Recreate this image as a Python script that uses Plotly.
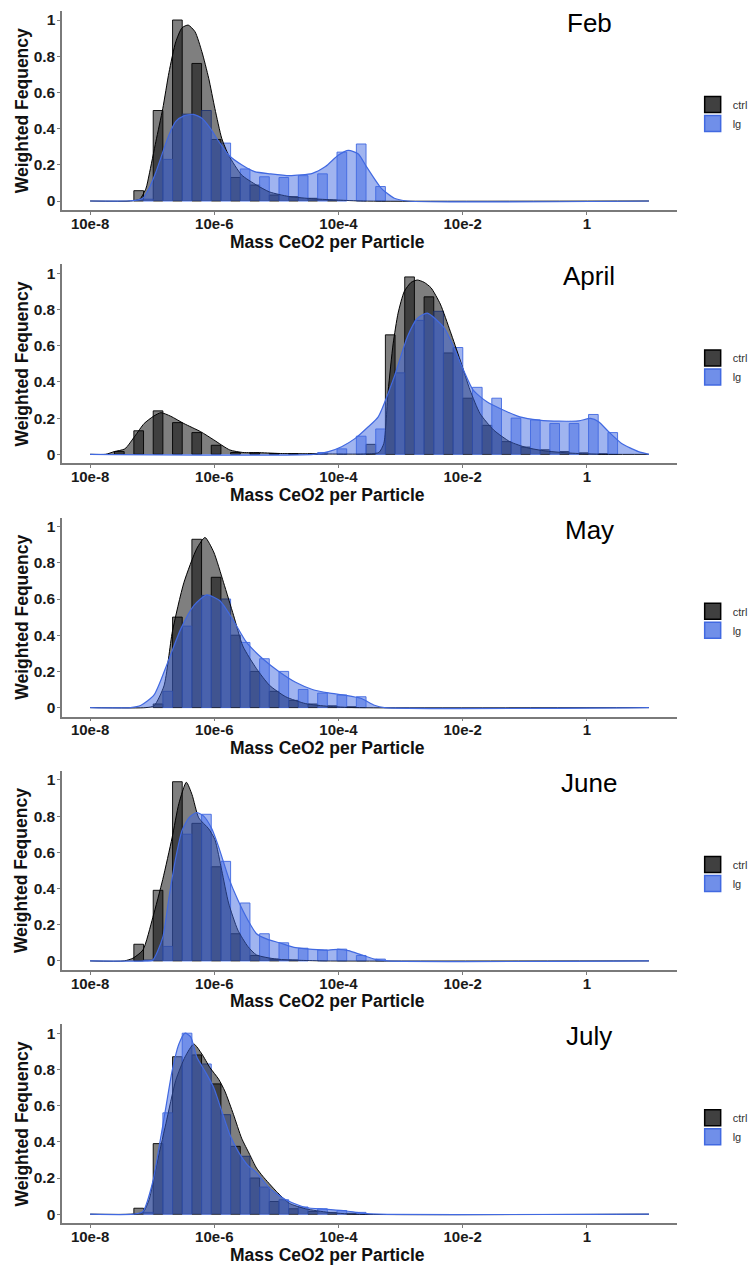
import plotly.graph_objects as go

# ---------------- data ----------------
months = ["Feb", "April", "May", "June", "July"]
group_names = ["ctrl", "lg"]

# histogram bins on log10(mass): 26 bins, each bin dodged ctrl | lg
bin_first_edge = -7.607
bin_width = 0.3116
n_bins = 26

feb_ctrl_hist = [0, 0.057, 0.5, 1.0, 0.76, 0.34, 0.13, 0.088, 0.033, 0.024, 0.015, 0.005,
                 0, 0, 0, 0, 0, 0, 0, 0, 0, 0, 0, 0, 0, 0]
feb_lg_hist = [0, 0.01, 0.23, 0.48, 0.5, 0.32, 0.177, 0.134, 0.13, 0.14, 0.15, 0.27, 0.315, 0.08,
               0, 0, 0, 0, 0, 0, 0, 0, 0, 0, 0, 0]
apr_ctrl_hist = [0.015, 0.13, 0.24, 0.175, 0.12, 0.05, 0.01, 0.008, 0.004, 0.003, 0.002, 0, 0,
                 0.055, 0.66, 0.98, 0.87, 0.56, 0.31, 0.16, 0.07, 0.04, 0.025, 0.015, 0.008, 0.003]
apr_lg_hist = [0, 0, 0, 0, 0, 0, 0, 0, 0, 0, 0.01, 0.03, 0.1, 0.14, 0.45, 0.74, 0.79, 0.59,
               0.37, 0.31, 0.2, 0.19, 0.17, 0.17, 0.22, 0.12]
may_ctrl_hist = [0, 0, 0.02, 0.5, 0.93, 0.72, 0.4, 0.2, 0.09, 0.04, 0.02, 0.01, 0.005,
                 0, 0, 0, 0, 0, 0, 0, 0, 0, 0, 0, 0, 0]
may_lg_hist = [0, 0, 0.09, 0.45, 0.62, 0.6, 0.36, 0.27, 0.2, 0.1, 0.08, 0.07, 0.06,
               0, 0, 0, 0, 0, 0, 0, 0, 0, 0, 0, 0, 0]
jun_ctrl_hist = [0, 0.092, 0.39, 0.99, 0.76, 0.52, 0.15, 0.03, 0.01, 0.005,
                 0, 0, 0, 0, 0, 0, 0, 0, 0, 0, 0, 0, 0, 0, 0, 0]
jun_lg_hist = [0, 0.005, 0.08, 0.7, 0.81, 0.55, 0.32, 0.15, 0.1, 0.07, 0.06, 0.065, 0.03, 0.01,
               0, 0, 0, 0, 0, 0, 0, 0, 0, 0, 0, 0]
jul_ctrl_hist = [0, 0.033, 0.39, 0.87, 0.88, 0.72, 0.375, 0.2, 0.07, 0.03, 0.015, 0.01, 0.005,
                 0, 0, 0, 0, 0, 0, 0, 0, 0, 0, 0, 0, 0]
jul_lg_hist = [0, 0.01, 0.56, 1.0, 0.83, 0.55, 0.32, 0.15, 0.08, 0.04, 0.03, 0.02, 0.01,
               0, 0, 0, 0, 0, 0, 0, 0, 0, 0, 0, 0, 0]

# scaled density curves, read at knots (x = log10 mass)
feb_ctrl_dens_x = [-8, -7.35, -7.2, -7.1, -7.05, -6.94, -6.83, -6.73, -6.62, -6.52, -6.42, -6.31,
                   -6.2, -6.09, -5.99, -5.88, -5.77, -5.56, -5.32, -5.11, -4.8, -4.4, -4.0, -3.6, 1]
feb_ctrl_dens_y = [0, 0, 0.01, 0.07, 0.144, 0.33, 0.51, 0.71, 0.88, 0.957, 0.972, 0.935,
                   0.825, 0.678, 0.51, 0.346, 0.254, 0.144, 0.088, 0.05, 0.025, 0.012, 0.005, 0, 0]
feb_lg_dens_x = [-8, -7.4, -7.25, -7.15, -7.05, -6.94, -6.83, -6.73, -6.62, -6.49, -6.34, -6.2,
                 -6.06, -5.93, -5.77, -5.56, -5.35, -5.1, -4.79, -4.42, -4.21, -4.0, -3.84,
                 -3.68, -3.55, -3.31, -3.1, -2.89, 1]
feb_lg_dens_y = [0, 0, 0.005, 0.015, 0.07, 0.16, 0.27, 0.365, 0.44, 0.47, 0.479, 0.457,
                 0.40, 0.33, 0.254, 0.2, 0.162, 0.15, 0.14, 0.153, 0.19, 0.254, 0.28,
                 0.26, 0.19, 0.07, 0.015, 0, 0]
apr_ctrl_dens_x = [-8, -7.75, -7.61, -7.44, -7.28, -7.13, -6.98, -6.86, -6.7, -6.49, -6.22,
                   -6.01, -5.75, -5.54, -5.27, -4.9, -4.5, -4.1, -3.6, -3.35, -3.27, -3.2,
                   -3.12, -3.04, -2.94, -2.83, -2.73, -2.62, -2.51, -2.36, -2.2, -2.04, -1.88,
                   -1.72, -1.5, -1.24, -0.97, -0.66, -0.18, 0.35, 1]
apr_ctrl_dens_y = [0, 0, 0.015, 0.03, 0.1, 0.17, 0.21, 0.23, 0.21, 0.17, 0.125,
                   0.08, 0.024, 0.01, 0.009, 0.004, 0.003, 0.002, 0.002, 0.01, 0.06, 0.35,
                   0.61, 0.78, 0.9, 0.95, 0.963, 0.95, 0.92, 0.83, 0.68, 0.52, 0.354,
                   0.225, 0.134, 0.07, 0.037, 0.018, 0.005, 0, 0]
apr_lg_dens_x = [-8, -4.4, -4.16, -3.95, -3.73, -3.52, -3.36, -3.1, -2.89, -2.73, -2.57, -2.3,
                 -2.14, -1.98, -1.83, -1.61, -1.4, -1.08, -0.77, -0.45, -0.13, 0.06, 0.19,
                 0.35, 0.56, 0.83, 1.0]
apr_lg_dens_y = [0, 0, 0.015, 0.042, 0.088, 0.152, 0.207, 0.43, 0.65, 0.75, 0.78, 0.70,
                 0.59, 0.46, 0.354, 0.29, 0.253, 0.207, 0.189, 0.183, 0.185, 0.198, 0.18,
                 0.125, 0.06, 0.015, 0]
may_ctrl_dens_x = [-8, -7.1, -6.97, -6.81, -6.675, -6.49, -6.28, -6.15, -6.01, -5.85, -5.69,
                   -5.54, -5.32, -5.11, -4.85, -4.53, -4.16, -3.73, 1]
may_ctrl_dens_y = [0, 0, 0.01, 0.12, 0.42, 0.69, 0.88, 0.94, 0.86, 0.69, 0.51,
                   0.34, 0.215, 0.123, 0.06, 0.022, 0.007, 0, 0]
may_lg_dens_x = [-8, -7.35, -7.18, -6.97, -6.75, -6.54, -6.33, -6.12, -5.91, -5.69, -5.48,
                 -5.22, -4.95, -4.69, -4.42, -4.16, -3.89, -3.63, -3.42, -3.26, 1]
may_lg_dens_y = [0, 0, 0.013, 0.07, 0.25, 0.435, 0.564, 0.623, 0.59, 0.48, 0.36,
                 0.27, 0.197, 0.14, 0.1, 0.081, 0.068, 0.05, 0.013, 0, 0]
jun_ctrl_dens_x = [-8, -7.45, -7.31, -7.15, -6.99, -6.83, -6.68, -6.57, -6.45, -6.36, -6.25,
                   -6.09, -5.99, -5.88, -5.77, -5.62, -5.46, -5.32, -5.0, -4.6, -4.2, 1]
jun_ctrl_dens_y = [0, 0, 0.015, 0.06, 0.24, 0.45, 0.68, 0.87, 0.987, 0.92, 0.79,
                   0.73, 0.67, 0.5, 0.32, 0.17, 0.08, 0.033, 0.01, 0.003, 0, 0]
jun_lg_dens_x = [-8, -7.1, -6.99, -6.83, -6.73, -6.62, -6.52, -6.41, -6.29, -6.17, -6.04,
                 -5.93, -5.77, -5.62, -5.46, -5.32, -5.15, -4.95, -4.69, -4.42, -4.16,
                 -4.0, -3.84, -3.63, -3.42, -3.2, 1]
jun_lg_dens_y = [0, 0, 0.005, 0.13, 0.35, 0.57, 0.72, 0.79, 0.82, 0.80, 0.73,
                 0.63, 0.46, 0.336, 0.226, 0.15, 0.12, 0.1, 0.073, 0.064, 0.06,
                 0.064, 0.057, 0.033, 0.01, 0, 0]
jul_ctrl_dens_x = [-8, -7.35, -7.15, -7.05, -6.94, -6.78, -6.62, -6.47, -6.33, -6.2, -6.07,
                   -5.93, -5.83, -5.69, -5.56, -5.43, -5.32, -5.22, -5.0, -4.79, -4.53,
                   -4.16, -3.73, 1]
jul_ctrl_dens_y = [0, 0, 0.01, 0.08, 0.255, 0.5, 0.74, 0.87, 0.94, 0.885, 0.81,
                   0.746, 0.68, 0.55, 0.42, 0.33, 0.255, 0.21, 0.126, 0.06, 0.03,
                   0.01, 0, 0]
jul_lg_dens_x = [-8, -7.3, -7.15, -6.99, -6.89, -6.78, -6.68, -6.57, -6.47, -6.38, -6.28,
                 -6.15, -6.01, -5.88, -5.75, -5.62, -5.46, -5.32, -5.11, -4.85, -4.53,
                 -4.21, -3.89, -3.63, -3.36, 1]
jul_lg_dens_y = [0, 0, 0.015, 0.18, 0.37, 0.59, 0.79, 0.94, 1.0, 0.98, 0.867,
                 0.79, 0.70, 0.57, 0.44, 0.35, 0.27, 0.23, 0.144, 0.08, 0.037,
                 0.028, 0.019, 0.006, 0, 0]

x_tick_vals = [-8, -6, -4, -2, 0]
x_tick_text = ["10e-8", "10e-6", "10e-4", "10e-2", "1"]
y_tick_vals = [0, 0.2, 0.4, 0.6, 0.8, 1]
y_tick_text = ["0", "0.2", "0.4", "0.6", "0.8", "1"]
x_title = "Mass CeO2 per Particle"
y_title = "Weighted Fequency"

hist_ctrl = [feb_ctrl_hist, apr_ctrl_hist, may_ctrl_hist, jun_ctrl_hist, jul_ctrl_hist]
hist_lg = [feb_lg_hist, apr_lg_hist, may_lg_hist, jun_lg_hist, jul_lg_hist]
dens_ctrl = [(feb_ctrl_dens_x, feb_ctrl_dens_y), (apr_ctrl_dens_x, apr_ctrl_dens_y),
             (may_ctrl_dens_x, may_ctrl_dens_y), (jun_ctrl_dens_x, jun_ctrl_dens_y),
             (jul_ctrl_dens_x, jul_ctrl_dens_y)]
dens_lg = [(feb_lg_dens_x, feb_lg_dens_y), (apr_lg_dens_x, apr_lg_dens_y),
           (may_lg_dens_x, may_lg_dens_y), (jun_lg_dens_x, jun_lg_dens_y),
           (jul_lg_dens_x, jul_lg_dens_y)]

# ---------------- styling / layout ----------------
W, H = 753, 1267
FONT = "Liberation Sans, Arial, Helvetica, sans-serif"
CTRL_FILL = "rgba(0,0,0,0.5)"
LG_FILL = "rgba(65,105,225,0.5)"
CTRL_LINE = "black"
LG_LINE = "rgb(65,105,225)"
AXIS_COL = "#7a7a7a"


def fx(p):
    return p / W


def fy(p):
    return 1 - p / H


bin_centers = [bin_first_edge + bin_width * (j + 0.5) for j in range(n_bins)]

fig = go.Figure()
layout = dict(
    width=W, height=H,
    margin=dict(l=0, r=0, t=0, b=0),
    paper_bgcolor="white", plot_bgcolor="white",
    barmode="overlay",
    showlegend=True,
    annotations=[],
)

panel_step = 253.3
unit = 181.0
for i, month in enumerate(months):
    sfx = "" if i == 0 else str(i + 1)
    xa, ya = "x" + sfx, "y" + sfx
    leg = "legend" + sfx
    zero_px = 201 + panel_step * i

    cy = [v if v > 0 else None for v in hist_ctrl[i]]
    ly = [v if v > 0 else None for v in hist_lg[i]]
    fig.add_trace(go.Bar(x=bin_centers, y=cy, width=bin_width / 2, offset=-bin_width / 2,
                         marker=dict(color=CTRL_FILL, line=dict(color=CTRL_LINE, width=0.9)),
                         xaxis=xa, yaxis=ya, showlegend=False, name="ctrl"))
    fig.add_trace(go.Bar(x=bin_centers, y=ly, width=bin_width / 2, offset=0,
                         marker=dict(color=LG_FILL, line=dict(color=LG_LINE, width=0.9)),
                         xaxis=xa, yaxis=ya, showlegend=False, name="lg"))
    dxc, dyc = dens_ctrl[i]
    fig.add_trace(go.Scatter(x=dxc, y=dyc, mode="lines", fill="tozeroy", fillcolor=CTRL_FILL,
                             line=dict(color=CTRL_LINE, width=1, shape="spline", smoothing=0.6),
                             xaxis=xa, yaxis=ya, showlegend=False, hoverinfo="skip"))
    dxl, dyl = dens_lg[i]
    fig.add_trace(go.Scatter(x=dxl, y=dyl, mode="lines", fill="tozeroy", fillcolor=LG_FILL,
                             line=dict(color=LG_LINE, width=1.2, shape="spline", smoothing=0.6),
                             xaxis=xa, yaxis=ya, showlegend=False, hoverinfo="skip"))
    # legend keys
    fig.add_trace(go.Scatter(x=[None], y=[None], mode="markers", name="ctrl",
                             marker=dict(symbol="square", size=16, color="rgb(64,64,64)",
                                         line=dict(color="black", width=1.5)),
                             xaxis=xa, yaxis=ya, legend=leg, showlegend=True))
    fig.add_trace(go.Scatter(x=[None], y=[None], mode="markers", name="lg",
                             marker=dict(symbol="square", size=16, color="rgb(112,143,233)",
                                         line=dict(color=LG_LINE, width=1.5)),
                             xaxis=xa, yaxis=ya, legend=leg, showlegend=True))

    ydom = [fy(zero_px + 0.05 * unit), fy(zero_px - 1.05 * unit)]
    layout["xaxis" + sfx] = dict(
        domain=[fx(63), fx(686)], anchor=ya, range=[-8.45, 1.45],
        tickmode="array", tickvals=x_tick_vals, ticktext=x_tick_text,
        showline=True, linecolor=AXIS_COL, linewidth=1.6,
        ticks="outside", ticklen=3, tickcolor=AXIS_COL, tickwidth=1.2,
        ticklabelstandoff=-4,
        showgrid=False, zeroline=False,
        tickfont=dict(family=FONT, size=15, color="#1a1a1a", weight="bold"),
    )
    layout["yaxis" + sfx] = dict(
        domain=ydom, anchor=xa, range=[-0.05, 1.05],
        tickmode="array", tickvals=y_tick_vals, ticktext=y_tick_text,
        showline=True, linecolor=AXIS_COL, linewidth=1.6,
        ticks="outside", ticklen=3, tickcolor=AXIS_COL, tickwidth=1.2,
        ticklabelstandoff=-1,
        showgrid=False, zeroline=False,
        tickfont=dict(family=FONT, size=15.5, color="#1a1a1a", weight="bold"),
    )
    layout[leg] = dict(
        x=fx(702), xanchor="left", y=fy(zero_px - 0.48 * unit), yanchor="middle",
        bgcolor="rgba(0,0,0,0)", borderwidth=0, tracegroupgap=0, itemwidth=30,
        font=dict(family=FONT, size=11, color="#333333"),
    )
    layout["annotations"] += [
        dict(text=month, x=fx(597), y=fy(zero_px - 178), xref="paper", yref="paper",
             xanchor="center", yanchor="middle", showarrow=False,
             font=dict(family=FONT, size=26, color="black")),
        dict(text=x_title, x=fx(332), y=fy(zero_px + 40.5), xref="paper", yref="paper",
             xanchor="center", yanchor="middle", showarrow=False,
             font=dict(family=FONT, size=17.5, color="#111111", weight="bold")),
        dict(text=y_title, x=fx(22), y=fy(zero_px - 0.5 * unit), xref="paper", yref="paper",
             xanchor="center", yanchor="middle", showarrow=False, textangle=-90,
             font=dict(family=FONT, size=17.5, color="#111111", weight="bold")),
    ]

fig.update_layout(**layout)
fig.write_html("out.html", config={"displayModeBar": False},
               post_script="document.body.style.margin='0px';")
